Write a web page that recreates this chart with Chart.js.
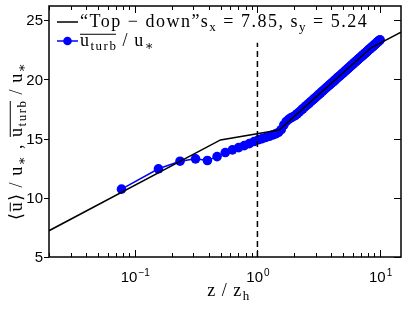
<!DOCTYPE html>
<html>
<head>
<meta charset="utf-8">
<script src="https://cdn.jsdelivr.net/npm/chart.js@4.4.0/dist/chart.umd.min.js"></script>
<style>
    body { margin: 0; background: #fff; }
    #wrap { width: 407px; height: 309px; }
</style>
</head>
<body>
<div id="wrap"><canvas id="profileChart" width="407" height="309"></canvas></div>
<script>
// "Top - down" model profile
const modelZ = [0.02, 0.5, 1.5, 8.45, 14.8];
const modelU = [7.22, 14.89, 15.73, 22.67, 24.0];

// mean turbine-height velocity points, u_turb / u*
const turbZ = [
    0.078, 0.156, 0.234, 0.313, 0.391, 0.469, 0.547, 0.625, 0.703, 0.781,
    0.859, 0.938, 1.016, 1.094, 1.172, 1.25, 1.328, 1.406, 1.484, 1.563,
    1.641, 1.719, 1.797, 1.875, 1.953, 2.031, 2.109, 2.188, 2.266, 2.344,
    2.422, 2.5, 2.578, 2.656, 2.734, 2.813, 2.891, 2.969, 3.047, 3.125,
    3.203, 3.281, 3.359, 3.438, 3.516, 3.594, 3.672, 3.75, 3.828, 3.906,
    3.984, 4.063, 4.141, 4.219, 4.297, 4.375, 4.453, 4.531, 4.609, 4.688,
    4.766, 4.844, 4.922, 5.0, 5.078, 5.156, 5.234, 5.313, 5.391, 5.469,
    5.547, 5.625, 5.703, 5.781, 5.859, 5.938, 6.016, 6.094, 6.172, 6.25,
    6.328, 6.406, 6.484, 6.563, 6.641, 6.719, 6.797, 6.875, 6.953, 7.031,
    7.109, 7.188, 7.266, 7.344, 7.422, 7.5, 7.578, 7.656, 7.734, 7.813,
    7.891, 7.969, 8.047, 8.125, 8.203, 8.281, 8.359, 8.438, 8.516, 8.594,
    8.672, 8.75, 8.828, 8.906, 8.984, 9.063, 9.141, 9.219, 9.297, 9.375,
    9.453, 9.531, 9.609, 9.688, 9.766, 9.844, 9.922, 10.0
];
const turbU = [
    10.73, 12.45, 13.09, 13.29, 13.15, 13.48, 13.82, 14.05, 14.24, 14.41,
    14.58, 14.75, 14.90, 15.00, 15.10, 15.20, 15.30, 15.40, 15.52, 15.75,
    16.15, 16.45, 16.62, 16.75, 16.85, 16.95, 17.10, 17.24, 17.38, 17.52,
    17.65, 17.78, 17.90, 18.02, 18.14, 18.25, 18.36, 18.47, 18.57, 18.68,
    18.77, 18.87, 18.97, 19.06, 19.15, 19.24, 19.32, 19.41, 19.49, 19.57,
    19.65, 19.73, 19.80, 19.88, 19.95, 20.03, 20.10, 20.17, 20.23, 20.30,
    20.37, 20.43, 20.50, 20.56, 20.62, 20.68, 20.75, 20.80, 20.86, 20.92,
    20.98, 21.03, 21.09, 21.14, 21.20, 21.25, 21.30, 21.36, 21.41, 21.46,
    21.51, 21.56, 21.60, 21.65, 21.70, 21.75, 21.79, 21.84, 21.88, 21.93,
    21.97, 22.02, 22.06, 22.10, 22.15, 22.19, 22.23, 22.27, 22.31, 22.35,
    22.39, 22.43, 22.47, 22.51, 22.55, 22.59, 22.62, 22.66, 22.70, 22.73,
    22.77, 22.81, 22.84, 22.88, 22.91, 22.95, 22.98, 23.02, 23.05, 23.08,
    23.12, 23.15, 23.18, 23.22, 23.25, 23.28, 23.31, 23.34
];

// dashed marker at z = zh
const markZ = [1, 1];
const markU = [5, 23.1];

const xMajorTicks = [0.1, 1, 10];
const xTickExp = ['\u22121', '0', '1'];
const xMinorTicks = [0.02, 0.03, 0.04, 0.05, 0.06, 0.07, 0.08, 0.09,
    0.2, 0.3, 0.4, 0.5, 0.6, 0.7, 0.8, 0.9, 2, 3, 4, 5, 6, 7, 8, 9];
const yTicks = [5, 10, 15, 20, 25];

const SERIF = '"Liberation Serif", "DejaVu Serif", serif';
const SANS = '"Liberation Sans", Arial, sans-serif';
const THIN = '\u2009';

const toPoints = (xs, ys) => xs.map((x, i) => ({ x: x, y: ys[i] }));

// text with subscripts and overlines, drawn piece by piece
function richText(ctx, parts, x, y, size, align, spacing) {
    const subSize = Math.round(size * 0.74);
    ctx.letterSpacing = (spacing || 0) + 'px';
    let total = 0;
    parts.forEach(p => {
        ctx.font = (p.sub ? subSize : size) + 'px ' + SERIF;
        p.w = ctx.measureText(p.t).width;
        total += p.w;
    });
    let cx = align === 'center' ? x - total / 2 : x;
    let ovStart = null;
    ctx.textAlign = 'left';
    ctx.textBaseline = 'alphabetic';
    parts.forEach((p, i) => {
        ctx.font = (p.sub ? subSize : size) + 'px ' + SERIF;
        ctx.fillText(p.t, cx, p.sub ? y + size * 0.22 : y);
        if (p.ov && ovStart === null) ovStart = cx;
        cx += p.w;
        if (p.ov && !(parts[i + 1] && parts[i + 1].ov)) {
            ctx.fillRect(ovStart, y - size * 0.68, cx - ovStart - (spacing || 0), 1);
            ovStart = null;
        }
    });
    ctx.letterSpacing = '0px';
}

const decorPlugin = {
    id: 'decor',
    afterDraw(chart) {
        const ctx = chart.ctx;
        const a = chart.chartArea;
        const xs = chart.scales.x, ys = chart.scales.y;
        ctx.save();
        ctx.strokeStyle = '#000';
        ctx.fillStyle = '#000';
        ctx.lineWidth = 1.5;
        ctx.strokeRect(a.left, a.top, a.right - a.left, a.bottom - a.top);

        ctx.lineWidth = 1;
        ctx.beginPath();
        xMajorTicks.forEach(v => {
            const px = Math.round(xs.getPixelForValue(v)) + 0.5;
            ctx.moveTo(px, a.bottom); ctx.lineTo(px, a.bottom - 7);
            ctx.moveTo(px, a.top); ctx.lineTo(px, a.top + 7);
        });
        xMinorTicks.forEach(v => {
            const px = Math.round(xs.getPixelForValue(v)) + 0.5;
            ctx.moveTo(px, a.bottom); ctx.lineTo(px, a.bottom - 4);
            ctx.moveTo(px, a.top); ctx.lineTo(px, a.top + 4);
        });
        yTicks.forEach(v => {
            const py = Math.round(ys.getPixelForValue(v)) + 0.5;
            ctx.moveTo(a.left, py); ctx.lineTo(a.left - 5, py);
            ctx.moveTo(a.right, py); ctx.lineTo(a.right - 7, py);
        });
        ctx.stroke();

        // y tick labels
        ctx.font = '15px ' + SANS;
        ctx.textAlign = 'right';
        ctx.textBaseline = 'middle';
        yTicks.forEach(v => ctx.fillText(String(v), a.left - 6, ys.getPixelForValue(v) + 1));

        // x tick labels: 10 with superscript exponent
        ctx.textBaseline = 'alphabetic';
        ctx.textAlign = 'left';
        xMajorTicks.forEach((v, i) => {
            ctx.font = '15px ' + SANS;
            const wBase = ctx.measureText('10').width;
            ctx.font = '10px ' + SANS;
            const wExp = ctx.measureText(xTickExp[i]).width;
            const left = xs.getPixelForValue(v) - (wBase + wExp) / 2;
            ctx.font = '15px ' + SANS;
            ctx.fillText('10', left, 282);
            ctx.font = '10px ' + SANS;
            ctx.fillText(xTickExp[i], left + wBase + 1, 276);
        });

        // axis titles
        richText(ctx, [{ t: 'z' + THIN + '/' + THIN + 'z' }, { t: 'h', sub: true }], 229, 296, 18, 'center', 1.5);
        ctx.save();
        ctx.translate(22, 141);
        ctx.rotate(-Math.PI / 2);
        richText(ctx, [
            { t: '\u27e8' }, { t: 'u', ov: true }, { t: '\u27e9' + THIN + '/' + THIN + 'u' }, { t: '\u2217', sub: true },
            { t: ' , ' }, { t: 'u', ov: true }, { t: 'turb', sub: true, ov: true },
            { t: THIN + '/' + THIN + 'u' }, { t: '\u2217', sub: true }
        ], 0, 0, 18, 'center', 1.5);
        ctx.restore();

        // legend
        ctx.strokeStyle = '#000';
        ctx.lineWidth = 1.5;
        ctx.beginPath(); ctx.moveTo(57, 22); ctx.lineTo(78, 22); ctx.stroke();
        ctx.strokeStyle = '#0000ff';
        ctx.beginPath(); ctx.moveTo(57, 41); ctx.lineTo(78, 41); ctx.stroke();
        ctx.fillStyle = '#0000ff';
        ctx.beginPath(); ctx.arc(67.5, 41, 4.3, 0, Math.PI * 2); ctx.fill();
        ctx.fillStyle = '#000';
        richText(ctx, [
            { t: '\u201cTop \u2212 down\u201ds' }, { t: 'x', sub: true },
            { t: ' = 7.85, s' }, { t: 'y', sub: true }, { t: ' = 5.24' }
        ], 80, 27, 18, 'left', 1.5);
        richText(ctx, [
            { t: 'u', ov: true }, { t: 'turb', sub: true, ov: true },
            { t: THIN + '/' + THIN + 'u' }, { t: '\u2217', sub: true }
        ], 80, 46, 18, 'left', 1.5);
        ctx.restore();
    }
};

new Chart(document.getElementById('profileChart').getContext('2d'), {
    type: 'scatter',
    data: {
        datasets: [
            {
                label: '"Top - down"',
                data: toPoints(modelZ, modelU),
                showLine: true,
                borderColor: '#000',
                borderWidth: 1.5,
                pointRadius: 0,
                order: 0
            },
            {
                label: 'z = zh',
                data: toPoints(markZ, markU),
                showLine: true,
                borderColor: '#000',
                borderWidth: 1.5,
                borderDash: [6, 4],
                pointRadius: 0,
                order: 0
            },
            {
                label: 'u_turb / u*',
                data: toPoints(turbZ, turbU),
                showLine: true,
                borderColor: '#0000ff',
                borderWidth: 1.5,
                pointRadius: 4.8,
                pointBackgroundColor: '#0000ff',
                pointBorderWidth: 0,
                order: 1
            }
        ]
    },
    options: {
        responsive: false,
        animation: false,
        devicePixelRatio: 1,
        layout: { padding: { left: 49, right: 6, top: 6, bottom: 52 } },
        plugins: { legend: { display: false }, tooltip: { enabled: false } },
        scales: {
            x: { type: 'logarithmic', min: 0.02, max: 14.8, display: false },
            y: { type: 'linear', min: 5, max: 26.2, display: false }
        }
    },
    plugins: [decorPlugin]
});
</script>
</body>
</html>
